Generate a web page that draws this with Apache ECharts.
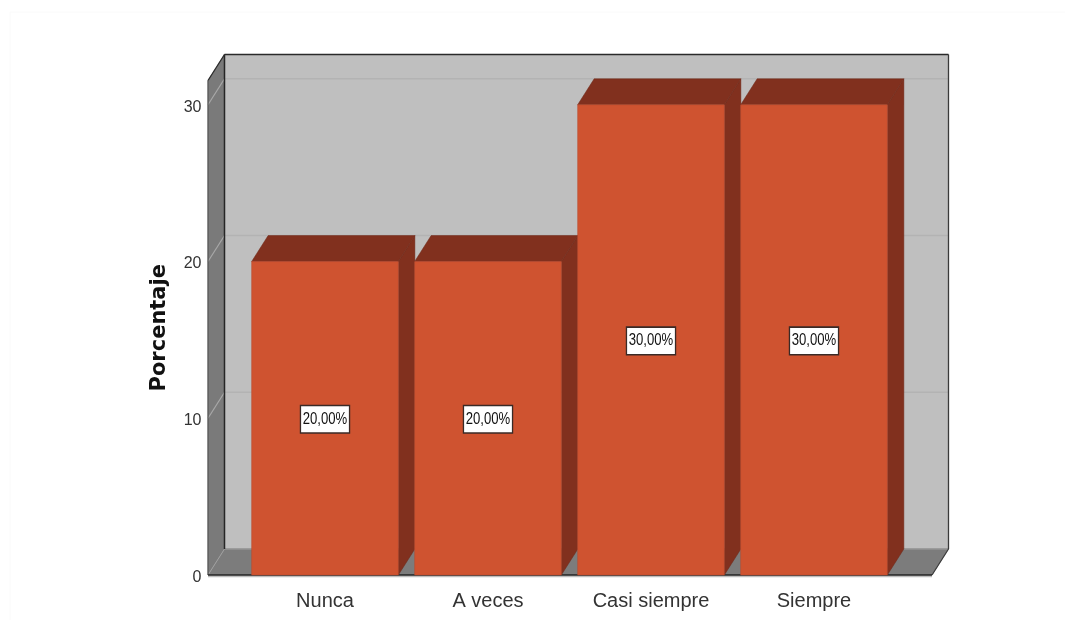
<!DOCTYPE html>
<html>
<head>
<meta charset="utf-8">
<style>html,body{margin:0;padding:0;background:#fff}#c{width:1075px;height:632px}</style>
<script src="https://cdn.jsdelivr.net/npm/echarts@6/dist/echarts.min.js"></script>
</head>
<body>
<div id="c"></div>
<script>
const categories = ['Nunca', 'A veces', 'Casi siempre', 'Siempre'];
const percentages = [20, 20, 30, 30];
const yTicks = [0, 10, 20, 30];
const yMax = 31.55;

const DX = 16.5, DY = -26, PAD_L = 35.5, PAD_R = 36.5;
const SANS = '"Liberation Sans",sans-serif';

function poly(points, fill, stroke, lw) {
  return { type: 'polygon', shape: { points }, style: { fill, stroke: stroke || fill, lineWidth: lw === undefined ? 0.5 : lw } };
}
function line(a, b, stroke, lw) {
  return { type: 'line', shape: { x1: a[0], y1: a[1], x2: b[0], y2: b[1] }, style: { stroke, lineWidth: lw, fill: null } };
}

function renderWalls(params, api) {
  const cs = params.coordSys;
  const L = cs.x - PAD_L, R = cs.x + cs.width + PAD_R;
  const T = api.coord([0, yMax])[1], B = api.coord([0, 0])[1];
  const children = [
    poly([[L + DX, T + DY], [R + DX, T + DY], [R + DX, B + DY], [L + DX, B + DY]], '#bfbfbf'),
    poly([[L, T], [L + DX, T + DY], [L + DX, B + DY], [L, B]], '#7a7a7a'),
    poly([[L, B], [L + DX, B + DY], [R + DX, B + DY], [R, B]], '#7c7c7c')
  ];
  yTicks.filter(t => t > 0).forEach(t => {
    const y = api.coord([0, t])[1];
    children.push(line([L + DX, y + DY], [R + DX, y + DY], '#b3b3b3', 1.5));
    children.push(line([L, y], [L + DX, y + DY], '#a8a8a8', 1.2));
  });
  children.push(line([L + DX, B + DY], [R + DX, B + DY], '#959595', 1.5));
  children.push(line([L, B], [L + DX, B + DY], '#a0a0a0', 1));
  children.push(line([L + DX, T + DY], [L + DX, B + DY], '#262626', 1.5));
  children.push(line([L, T], [L + DX, T + DY], '#2a2a2a', 1.3));
  children.push(line([L + DX, T + DY], [R + DX, T + DY], '#2a2a2a', 1.5));
  children.push(line([R + DX, T + DY], [R + DX, B + DY], '#3a3a3a', 1.3));
  children.push(line([R + DX, B + DY], [R, B], '#3a3a3a', 1.2));
  children.push(line([L, T], [L, B], '#555555', 1.2));
  children.push(line([L, B + 1.5], [R, B + 1.5], '#bdbdbd', 1.5));
  children.push(line([L, B], [R, B], '#222222', 1.5));
  return { type: 'group', children };
}

function renderBar(params, api) {
  const c = api.coord([api.value(0), api.value(1)]);
  const base = api.coord([api.value(0), 0])[1];
  const w = api.size([1, 0])[0] * 0.9;
  const x0 = c[0] - w / 2, x1 = c[0] + w / 2, top = c[1];
  const mid = api.coord([api.value(0), api.value(1) / 2]);
  const text = api.value(1).toFixed(2).replace('.', ',') + '%';
  return {
    type: 'group',
    children: [
      poly([[x1, base], [x1 + DX, base + DY], [x1 + DX, top + DY], [x1, top]], '#81301e', '#6f2918'),
      poly([[x0, top], [x0 + DX, top + DY], [x1 + DX, top + DY], [x1, top]], '#81301e', '#6f2918'),
      poly([[x0, top], [x1, top], [x1, base], [x0, base]], '#cf5330', '#b9472a'),
      {
        type: 'text',
        x: mid[0], y: mid[1] + 1, scaleX: 0.82,
        style: {
          text, x: 0, y: 0, align: 'center', verticalAlign: 'middle',
          font: '16px ' + SANS, fill: '#111',
          backgroundColor: '#fff', borderColor: '#3a2a26', borderWidth: 1.6,
          padding: [5, 2, 5, 2]
        }
      }
    ]
  };
}

const chart = echarts.init(document.getElementById('c'), null, { renderer: 'canvas' });
chart.setOption({
  animation: false,
  backgroundColor: '#ffffff',
  graphic: [{
    type: 'polyline', z: -10, silent: true,
    shape: { points: [[10, 620], [10, 12], [1065, 12]] },
    style: { fill: null, stroke: '#fafafa', lineWidth: 1 }
  }],
  grid: { left: 243.5, right: 179.5, top: 80.5, bottom: 57 },
  xAxis: {
    type: 'category', data: categories,
    axisLine: { show: false }, axisTick: { show: false }, splitLine: { show: false },
    axisLabel: { color: '#333', fontSize: 20, fontFamily: SANS, margin: 16, interval: 0 }
  },
  yAxis: {
    type: 'value', min: 0, max: yMax, interval: 10,
    name: 'Porcentaje', nameLocation: 'middle', nameGap: 73, nameRotate: 90,
    nameTextStyle: { color: '#111', fontSize: 21, fontWeight: 'bold', fontFamily: '"DejaVu Sans",sans-serif' },
    axisLine: { show: false }, axisTick: { show: false }, splitLine: { show: false },
    axisLabel: { color: '#333', fontSize: 16, fontFamily: SANS, margin: 42, showMaxLabel: false, verticalAlign: 'top', lineHeight: 5 }
  },
  series: [
    { type: 'custom', silent: true, z: 1, data: [[0, 0]], renderItem: renderWalls, clip: false },
    { type: 'custom', silent: true, z: 2, encode: { x: 0, y: 1 }, clip: false,
      data: percentages.map((v, i) => [i, v]), renderItem: renderBar }
  ]
});
</script>
</body>
</html>
